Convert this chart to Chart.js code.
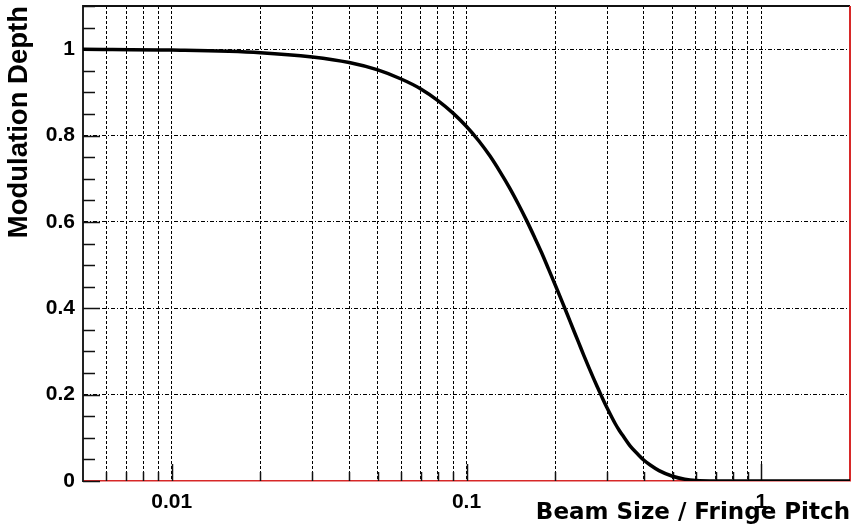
<!DOCTYPE html>
<html lang="en">

<head>
  <meta charset="UTF-8">
  <title>Modulation Depth</title>
  <style>
    body { margin: 0; background: #fff; }
  </style>
</head>

<body>

  <canvas id="graficoModulacao" width="852" height="532"></canvas>

  <script src="https://cdn.jsdelivr.net/npm/chart.js"></script>

  <script>

    // beam size / fringe pitch
    const ratio = [0.005, 0.01, 0.02, 0.03, 0.04, 0.05, 0.06, 0.07, 0.08, 0.09, 0.1,
      0.11, 0.12, 0.13, 0.14, 0.15, 0.16, 0.17, 0.18, 0.19, 0.2, 0.21, 0.22, 0.23, 0.24,
      0.25, 0.26, 0.27, 0.28, 0.29, 0.3, 0.32, 0.33, 0.34, 0.36, 0.38, 0.4, 0.42,
      0.45, 0.5, 0.55, 0.6, 0.7, 0.8, 1, 1.5, 2];
    // modulation depth
    const depth = [1.0, 0.998, 0.992, 0.982, 0.969, 0.952, 0.931, 0.908, 0.881, 0.852, 0.821,
      0.788, 0.753, 0.716, 0.679, 0.641, 0.603, 0.565, 0.528, 0.49, 0.454, 0.419, 0.385, 0.352, 0.321,
      0.291, 0.263, 0.237, 0.213, 0.19, 0.169, 0.132, 0.117, 0.104, 0.08, 0.063, 0.048, 0.037,
      0.024, 0.011, 0.004, 0.001, 0, 0, 0, 0, 0];

    const xGrid = [0.006, 0.007, 0.008, 0.009, 0.01, 0.02, 0.03, 0.04, 0.05, 0.06, 0.07, 0.08, 0.09,
      0.1, 0.2, 0.3, 0.4, 0.5, 0.6, 0.7, 0.8, 0.9, 1];
    const xLabels = [0.01, 0.1, 1];
    const yTicks = [0, 0.2, 0.4, 0.6, 0.8, 1];

    const fonte = "'Liberation Sans', Arial, sans-serif";
    const vermelho = 'rgb(215, 40, 40)';

    // ticks pointing into the frame, plus top/right edges
    const moldura = {
      id: 'moldura',
      beforeDatasetsDraw(chart) {
        const { ctx, chartArea: a, scales: { x, y } } = chart;
        ctx.save();
        ctx.strokeStyle = '#111';
        ctx.lineWidth = 1.5;
        ctx.beginPath();
        for (let i = 0; i <= 22; i++) {
          const py = Math.round(y.getPixelForValue(i * 0.05)) + 0.5;
          const len = i % 4 === 0 ? 17 : 12;
          ctx.moveTo(a.left, py);
          ctx.lineTo(a.left + len, py);
        }
        xGrid.forEach((v) => {
          const px = Math.round(x.getPixelForValue(v)) + 0.5;
          const len = xLabels.includes(v) ? 17 : 9;
          ctx.moveTo(px, a.bottom);
          ctx.lineTo(px, a.bottom - len);
        });
        ctx.stroke();

        ctx.lineWidth = 2;
        ctx.beginPath();
        ctx.moveTo(a.left, a.top);
        ctx.lineTo(a.right, a.top);
        ctx.stroke();

        ctx.strokeStyle = vermelho;
        ctx.beginPath();
        ctx.moveTo(a.right, a.top);
        ctx.lineTo(a.right, a.bottom);
        ctx.stroke();
        ctx.restore();
      }
    };

    const ctx = document.getElementById('graficoModulacao');

    const grafico = new Chart(ctx, {
      type: 'scatter',
      data: {
        datasets: [{
          data: ratio.map((r, i) => ({ x: r, y: depth[i] })),
          showLine: true,
          borderColor: '#000',
          borderWidth: 3.5,
          pointRadius: 0,
          cubicInterpolationMode: 'monotone'
        }]
      },
      options: {
        responsive: false,
        devicePixelRatio: 1,
        animation: false,
        layout: { padding: { top: 6, right: 2, left: 0, bottom: 0 } },
        plugins: {
          legend: { display: false },
          tooltip: { enabled: false }
        },
        scales: {
          x: {
            type: 'logarithmic',
            min: 0.005,
            max: 2,
            afterBuildTicks: (s) => { s.ticks = xGrid.map((v) => ({ value: v })); },
            afterFit: (s) => {
              s.height = 51;
              s.paddingLeft = 0;
              s.paddingRight = 0;
            },
            grid: { color: '#000', lineWidth: 1, drawTicks: false },
            border: { color: vermelho, width: 1.5, dash: [3, 2] },
            ticks: {
              autoSkip: false,
              maxRotation: 0,
              padding: 9,
              color: '#000',
              font: { family: fonte, size: 21, weight: 'bold' },
              callback: (v) => xLabels.includes(v) ? String(v) : ''
            },
            title: {
              display: true,
              text: 'Beam Size / Fringe Pitch',
              align: 'end',
              color: '#000',
              font: { family: "'DejaVu Sans', sans-serif", size: 23, weight: 'bold', lineHeight: 1 },
              padding: { top: 0, bottom: 7 }
            }
          },
          y: {
            min: 0,
            max: 1.1,
            afterBuildTicks: (s) => { s.ticks = yTicks.map((v) => ({ value: v })); },
            afterFit: (s) => {
              s.width = 83;
              s.paddingTop = 0;
              s.paddingBottom = 0;
            },
            grid: {
              color: (c) => (c.tick && c.tick.value === 0) ? 'rgba(0,0,0,0)' : '#000',
              lineWidth: 1,
              drawTicks: false
            },
            border: { color: '#222', width: 2, dash: [4, 2, 1, 2] },
            ticks: {
              padding: 8,
              color: '#000',
              font: { family: fonte, size: 21, weight: 'bold' },
              callback: (v) => String(v)
            },
            title: {
              display: true,
              text: 'Modulation Depth',
              align: 'end',
              color: '#000',
              font: { family: fonte, size: 27.5, weight: 'bold', lineHeight: 1 },
              padding: { top: 6, bottom: 0 }
            }
          }
        }
      },
      plugins: [moldura]
    });

  </script>
</body>

</html>
